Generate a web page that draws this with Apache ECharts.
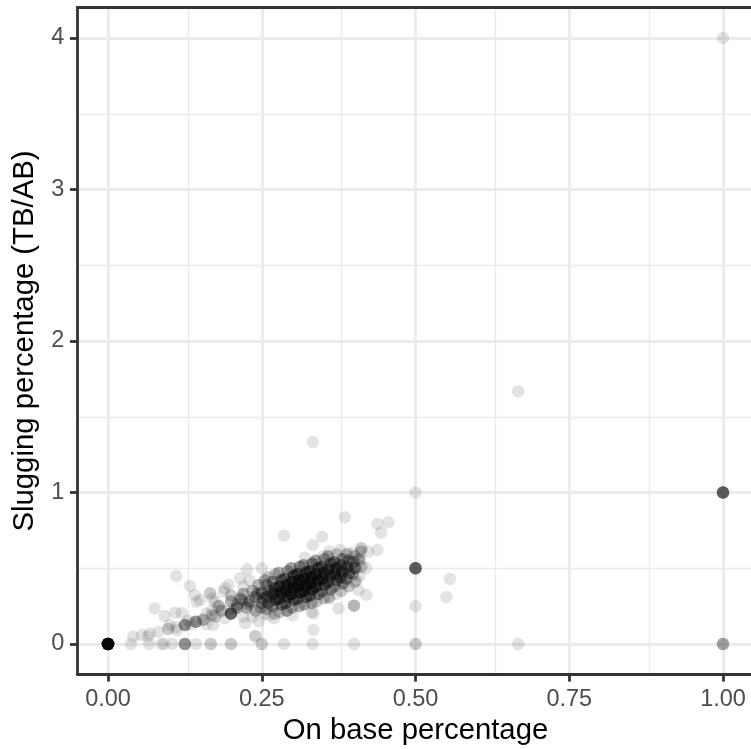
<!DOCTYPE html>
<html>
<head>
<meta charset="utf-8">
<script src="https://cdn.jsdelivr.net/npm/echarts@6/dist/echarts.min.js"></script>
<style>
html,body{margin:0;padding:0;background:#fff;}
#chart{width:751px;height:749px;}
</style>
</head>
<body>
<div id="chart"></div>
<script>
// ---- data: on-base percentage (x), slugging percentage (y), number of players at that spot ----
var obp = [
  1.000,0.667,0.333,0.500,1.000,0.500,1.000,0.667,0.500,0.500,0.556,0.550,0.000,
  0.037,0.067,0.087,0.091,0.104,0.125,0.143,0.167,0.200,0.250,0.286,0.333,0.400,
  0.041,0.055,0.068,0.082,0.065,0.098,0.112,0.111,0.125,0.143,0.135,0.155,0.171,0.174,0.169,0.169,
  0.120,0.109,0.092,0.076,0.111,0.133,0.141,0.150,0.144,0.166,0.174,0.190,0.196,0.215,0.226,0.250,
  0.188,0.200,0.185,0.190,0.160,0.180,0.170,0.200,0.200,0.210,0.220,0.223,0.239,0.100,0.160,0.130,
  0.210,0.215,0.220,0.225,0.230,0.235,0.240,0.240,0.245,0.250,0.250,0.255,0.255,0.235,0.245,0.220,0.230,
  0.205,0.228,0.248,0.252,0.218,0.243,
  0.262,0.258,0.261,0.259,0.262,0.258,0.261,
  0.271,0.268,0.272,0.269,0.271,0.268,0.272,
  0.279,0.282,0.278,0.281,0.279,0.282,0.278,
  0.291,0.288,0.292,0.289,0.291,0.288,0.292,
  0.299,0.302,0.298,0.301,0.299,0.302,0.298,
  0.311,0.308,0.312,0.309,0.311,0.308,0.312,
  0.319,0.322,0.318,0.321,0.319,0.322,0.318,
  0.331,0.328,0.332,0.329,0.331,0.328,0.332,
  0.339,0.342,0.338,0.341,0.339,0.342,0.338,
  0.351,0.348,0.352,0.349,0.351,0.348,0.352,
  0.359,0.362,0.358,0.361,0.359,0.362,0.358,
  0.371,0.368,0.372,0.369,0.371,0.368,0.372,
  0.379,0.382,0.378,0.381,0.379,0.382,
  0.391,0.388,0.392,0.389,0.391,0.388,
  0.401,0.398,0.402,0.399,0.401,
  0.409,0.412,0.408,0.411,
  0.286,0.348,0.333,0.385,0.438,0.456,0.444,0.438,0.412,0.423,0.398,0.377,0.400,0.404,0.420,0.400,
  0.375,0.331,0.334,0.334,0.240,0.407,0.360,0.290,0.300,0.270,0.350,0.320,0.390,0.360,0.420,0.410,0.380
];
var slg = [
  4.000,1.667,1.333,1.000,1.000,0.500,0.000,0.000,0.000,0.250,0.429,0.310,0.000,
  0.000,0.000,0.000,0.000,0.000,0.000,0.000,0.000,0.000,0.000,0.000,0.000,0.000,
  0.048,0.059,0.070,0.081,0.050,0.099,0.090,0.111,0.125,0.147,0.130,0.160,0.125,0.180,0.191,0.224,
  0.203,0.207,0.185,0.235,0.449,0.383,0.323,0.290,0.279,0.335,0.279,0.368,0.390,0.434,0.493,0.500,
  0.345,0.200,0.220,0.170,0.200,0.250,0.300,0.280,0.320,0.240,0.180,0.137,0.048,0.125,0.130,0.155,
  0.260,0.300,0.330,0.240,0.280,0.350,0.310,0.220,0.390,0.270,0.340,0.420,0.200,0.180,0.150,0.380,0.420,
  0.230,0.260,0.240,0.300,0.290,0.330,
  0.19,0.23,0.27,0.31,0.35,0.39,0.44,
  0.20,0.25,0.29,0.33,0.37,0.41,0.46,
  0.21,0.26,0.30,0.34,0.38,0.42,0.47,
  0.22,0.27,0.31,0.35,0.39,0.43,0.48,
  0.24,0.29,0.33,0.37,0.41,0.45,0.50,
  0.25,0.30,0.34,0.38,0.42,0.46,0.51,
  0.26,0.31,0.35,0.39,0.43,0.47,0.52,
  0.27,0.32,0.36,0.40,0.44,0.48,0.53,
  0.28,0.33,0.38,0.42,0.46,0.50,0.55,
  0.30,0.35,0.39,0.43,0.47,0.51,0.56,
  0.31,0.36,0.41,0.45,0.49,0.53,0.58,
  0.33,0.38,0.42,0.46,0.50,0.54,0.59,
  0.35,0.40,0.44,0.48,0.52,0.56,
  0.38,0.43,0.47,0.51,0.55,0.59,
  0.41,0.46,0.50,0.54,0.58,
  0.45,0.51,0.56,0.61,
  0.715,0.708,0.653,0.836,0.792,0.803,0.735,0.620,0.632,0.609,0.599,0.620,0.500,0.420,0.323,0.253,
  0.235,0.213,0.200,0.092,0.055,0.356,0.300,0.220,0.190,0.170,0.580,0.570,0.600,0.610,0.500,0.550,0.560
];
var count = [
  1,1,1,1,9,9,4,1,2,1,1,1,40,
  1,1,1,1,1,5,1,2,2,2,1,1,1,
  1,1,1,1,1,2,1,1,5,5,1,3,1,2,2,1,
  1,1,1,1,1,1,1,1,1,2,1,1,1,1,1,1,
  1,8,3,1,1,3,1,3,2,3,1,1,1,1,1,1,
  3,3,3,3,4,3,4,3,3,4,4,3,1,1,1,1,1,
  2,3,3,3,2,3,
  1,3,4,6,5,3,2,
  2,4,6,8,6,4,2,
  2,5,7,9,8,5,3,
  3,5,8,10,9,6,3,
  3,6,9,11,10,7,4,
  3,6,9,11,10,8,4,
  3,6,9,11,10,8,4,
  3,6,9,11,10,8,5,
  2,5,8,10,9,7,4,
  2,4,7,8,8,6,3,
  2,4,6,7,7,6,3,
  1,3,6,7,7,5,2,
  2,4,6,7,6,3,
  2,4,5,5,4,2,
  2,3,4,4,2,
  1,2,3,2,
  1,1,1,1,1,1,1,1,2,1,1,1,2,1,1,3,
  1,1,1,1,1,1,1,1,1,1,1,1,1,1,1,1,1
];
var xTicks = [0, 0.25, 0.5, 0.75, 1];
var xMinor = [0.125, 0.375, 0.625, 0.875];
var yTicks = [0, 1, 2, 3, 4];
var yMinor = [0.5, 1.5, 2.5, 3.5];
var xTitle = 'On base percentage';
var yTitle = 'Slugging percentage (TB/AB)';

// ---- build scatter data (one mark per player) ----
var points = [];
for (var i = 0; i < obp.length; i++) {
  for (var k = 0; k < count[i]; k++) points.push([obp[i], slg[i]]);
}

var FONT = '"Liberation Sans", Arial, Helvetica, sans-serif';
var GRID_COL = '#EBEBEB';
var MAJ_W = 2.8, MIN_W = 1.4;

var gridLines = [];
xTicks.forEach(function (v) { gridLines.push({ xAxis: v, lineStyle: { width: MAJ_W } }); });
xMinor.forEach(function (v) { gridLines.push({ xAxis: v, lineStyle: { width: MIN_W } }); });
yTicks.forEach(function (v) { gridLines.push({ yAxis: v, lineStyle: { width: MAJ_W } }); });
yMinor.forEach(function (v) { gridLines.push({ yAxis: v, lineStyle: { width: MIN_W } }); });

var chart = echarts.init(document.getElementById('chart'), null, { renderer: 'canvas', devicePixelRatio: 1 });

var borderLine = { show: true, onZero: false, lineStyle: { color: '#333333', width: 2.8 } };

chart.setOption({
  animation: false,
  backgroundColor: '#ffffff',
  grid: { left: 77.25, top: 7.7, width: 676.5, height: 666.6, containLabel: false, outerBoundsMode: 'none' },
  xAxis: [{
    type: 'value', min: -0.05, max: 1.05, zlevel: 2, z: 10,
    name: xTitle, nameLocation: 'middle', nameGap: 40,
    nameTextStyle: { color: '#000000', fontSize: 29.3, fontFamily: FONT },
    axisLine: borderLine,
    axisTick: { show: true, length: 7.3, customValues: xTicks, lineStyle: { color: '#333333', width: 2.8 } },
    axisLabel: { show: true, customValues: xTicks, margin: 13, color: '#4D4D4D', fontSize: 23.5, fontFamily: FONT,
      formatter: function (v) { return v.toFixed(2); } },
    splitLine: { show: false }, minorTick: { show: false }, minorSplitLine: { show: false }
  }, {
    type: 'value', min: -0.05, max: 1.05, position: 'top', zlevel: 2, z: 10,
    axisLine: borderLine, axisTick: { show: false }, axisLabel: { show: false }, splitLine: { show: false }
  }],
  yAxis: [{
    type: 'value', min: -0.2, max: 4.2, zlevel: 2, z: 10,
    name: yTitle, nameLocation: 'middle', nameGap: 38,
    nameTextStyle: { color: '#000000', fontSize: 29.3, fontFamily: FONT },
    axisLine: borderLine,
    axisTick: { show: true, length: 7.3, customValues: yTicks, lineStyle: { color: '#333333', width: 2.8 } },
    axisLabel: { show: true, customValues: yTicks, margin: 13, color: '#4D4D4D', fontSize: 23.5, fontFamily: FONT,
      formatter: function (v) { return String(Math.round(v)); } },
    splitLine: { show: false }, minorTick: { show: false }, minorSplitLine: { show: false }
  }, {
    type: 'value', min: -0.2, max: 4.2, position: 'right', zlevel: 2, z: 10,
    axisLine: borderLine, axisTick: { show: false }, axisLabel: { show: false }, splitLine: { show: false }
  }],
  series: [{
    type: 'scatter', zlevel: 0, z: 1, silent: true,
    data: [[-1, -1]], symbolSize: 0,
    markLine: {
      silent: true, symbol: ['none', 'none'], animation: false,
      label: { show: false }, emphasis: { disabled: true },
      lineStyle: { color: GRID_COL, type: 'solid', width: MAJ_W },
      data: gridLines
    }
  }, {
    type: 'scatter', zlevel: 1, z: 3, silent: true,
    symbol: 'circle', symbolSize: 12.5,
    itemStyle: { color: '#000000', opacity: 0.11 },
    emphasis: { disabled: true },
    progressive: 0,
    data: points
  }]
});
</script>
</body>
</html>
